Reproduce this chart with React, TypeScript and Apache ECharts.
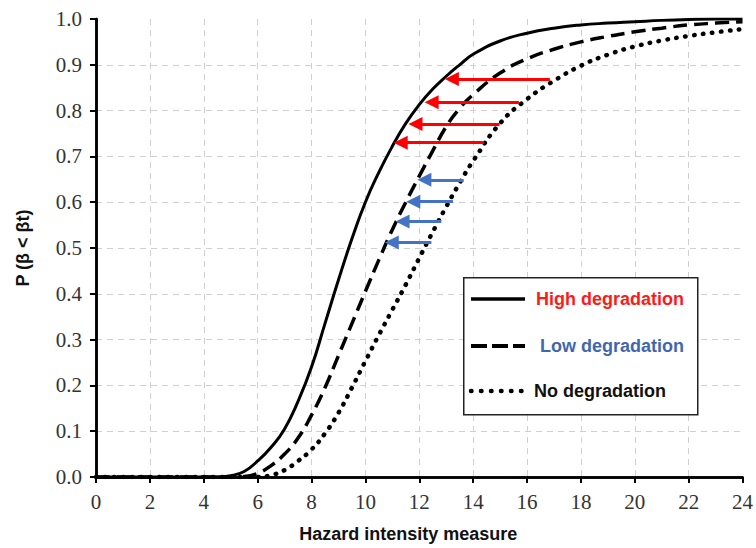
import React, { useEffect, useRef } from "react";
import * as echarts from "echarts";

// Hazard intensity measure (x) sample points
const xs = [0, 1, 2, 3, 4, 4.5, 5, 5.5, 6, 6.5, 7, 7.5, 8, 8.5, 9, 9.5, 10, 10.5, 11, 11.5, 12, 12.5, 13, 13.5, 14, 15, 16, 17, 18, 19, 20, 21, 22, 23, 24];

// P(beta < beta_t) for each curve
const highDeg = [0, 0, 0, 0, 0, 0.0005, 0.003, 0.012, 0.035, 0.065, 0.105, 0.165, 0.24, 0.335, 0.43, 0.52, 0.6, 0.665, 0.722, 0.772, 0.813, 0.847, 0.875, 0.9, 0.923, 0.952, 0.969, 0.98, 0.987, 0.991, 0.994, 0.997, 0.999, 1, 1];
const lowDeg = [0, 0, 0, 0, 0, 0, 0, 0.001, 0.008, 0.025, 0.05, 0.085, 0.135, 0.195, 0.265, 0.335, 0.405, 0.474, 0.54, 0.6, 0.657, 0.712, 0.765, 0.805, 0.835, 0.882, 0.913, 0.934, 0.95, 0.962, 0.972, 0.98, 0.987, 0.991, 0.994];
const noDeg = [0, 0, 0, 0, 0, 0, 0, 0, 0, 0.004, 0.015, 0.035, 0.06, 0.095, 0.14, 0.195, 0.253, 0.31, 0.365, 0.42, 0.478, 0.535, 0.59, 0.642, 0.69, 0.772, 0.825, 0.865, 0.898, 0.922, 0.94, 0.953, 0.963, 0.971, 0.978];

// Arrows (red: no -> high degradation, blue: no -> low degradation)
// "To" values are the arrowhead centres.
const redY = [0.869, 0.818, 0.771, 0.73];
const redFrom = [16.85, 15.7, 14.98, 14.4];
const redTo = [13.21, 12.46, 11.86, 11.31];
const blueY = [0.649, 0.601, 0.558, 0.512];
const blueFrom = [13.65, 13.25, 12.82, 12.45];
const blueTo = [12.19, 11.78, 11.38, 10.98];

const seriesNames = ["High degradation", "Low degradation", "No degradation"];
const legendColors = ["#ff1a1a", "#3f67b0", "#111111"];

const pairs = (ys: number[]) => xs.map((x, i) => [x, ys[i]]);

export default function App() {
  const ref = useRef<HTMLDivElement>(null);
  useEffect(() => {
    if (!ref.current) return;
    const chart = echarts.init(ref.current, undefined, { renderer: "svg" });
    const sans = "'Liberation Sans', Arial, sans-serif";
    const serif = "'Liberation Serif', 'Times New Roman', serif";
    const arrowLines = (ys: number[], from: number[], to: number[]) =>
      ys.map((y, i) => [{ coord: [from[i], y] }, { coord: [to[i], y] }]);
    const arrowSeries = (name: string, color: string, data: any[]) => ({
      name,
      type: "line",
      data: [],
      z: 5,
      markLine: {
        silent: true,
        symbol: ["none", "triangle"],
        symbolSize: 14,
        label: { show: false },
        emphasis: { disabled: true },
        animation: false,
        lineStyle: { color, width: 3.2, type: "solid" },
        itemStyle: { color },
        data,
      },
    });
    const solidStyle = { width: 3 };
    const dashedStyle = { width: 3.5, type: [14, 7] };
    const dottedStyle = { width: 4.5, type: [0.5, 8.5], cap: "round" };
    const legendY = [299, 346, 391];
    const legendTextX = [536, 540, 534];
    const legendLineDash: any[] = [null, [16, 5], [0.5, 9.5]];
    const legendLineWidth = [3.5, 4, 4.5];
    const legendGraphics: any[] = [
      {
        type: "rect",
        left: 463,
        top: 277,
        shape: { x: 0, y: 0, width: 234, height: 137 },
        style: { fill: "#fff", stroke: "#222", lineWidth: 1.5 },
        z: 10,
      },
    ];
    seriesNames.forEach((n, i) => {
      legendGraphics.push({
        type: "line",
        shape: { x1: 471, y1: legendY[i], x2: 525, y2: legendY[i] },
        style: {
          stroke: "#000",
          lineWidth: legendLineWidth[i],
          lineDash: legendLineDash[i] || undefined,
          lineCap: i === 2 ? "round" : "butt",
        },
        z: 11,
      });
      legendGraphics.push({
        type: "text",
        x: legendTextX[i],
        y: legendY[i],
        style: {
          text: n,
          fill: legendColors[i],
          font: `bold 18px ${sans}`,
          verticalAlign: "middle",
          align: "left",
        },
        z: 11,
      });
    });
    const frameAxis = {
      type: "value",
      min: 0,
      axisLine: { show: true, lineStyle: { color: "#000", width: 2.5 } },
      axisTick: { show: false },
      axisLabel: { show: false },
      splitLine: { show: false },
    };
    chart.setOption({
      animation: false,
      backgroundColor: "#fff",
      grid: {
        left: 96,
        right: 9,
        top: 19,
        bottom: 71,
      },
      xAxis: [
        {
          type: "value",
          min: 0,
          max: 24,
          interval: 2,
          name: "Hazard intensity measure",
          nameLocation: "middle",
          nameGap: 48,
          nameTextStyle: { fontFamily: sans, fontWeight: "bold", fontSize: 18, color: "#111", padding: [0, 22, 0, 0] },
          axisLine: { lineStyle: { color: "#000", width: 2.5 } },
          axisTick: { show: true, length: 6, lineStyle: { color: "#000", width: 2 } },
          axisLabel: { fontFamily: serif, fontSize: 21, color: "#333", margin: 14 },
          splitLine: { show: true, showMinLine: false, showMaxLine: false, lineStyle: { color: "#d0d0d0", type: [6, 5], width: 1 } },
        },
        { ...frameAxis, max: 24, position: "top" },
      ],
      yAxis: [
        {
          type: "value",
          min: 0,
          max: 1,
          interval: 0.1,
          name: "P (β < βt)",
          nameLocation: "middle",
          nameGap: 64,
          nameRotate: 90,
          nameTextStyle: { fontFamily: sans, fontWeight: "bold", fontSize: 18, color: "#111" },
          axisLine: { lineStyle: { color: "#000", width: 2.5 } },
          axisTick: { show: true, length: 6, lineStyle: { color: "#000", width: 2 } },
          axisLabel: { fontFamily: serif, fontSize: 21, color: "#333", margin: 14, formatter: (v: number) => v.toFixed(1) },
          splitLine: { show: true, showMinLine: false, showMaxLine: false, lineStyle: { color: "#d0d0d0", type: [6, 5], width: 1 } },
        },
        { ...frameAxis, max: 1, position: "right" },
      ],
      graphic: legendGraphics,
      series: [
        {
          name: seriesNames[0],
          type: "line",
          data: pairs(highDeg),
          showSymbol: false,
          symbol: "none",
          smooth: 0.5,
          lineStyle: { color: "#000", ...solidStyle },
          z: 3,
        },
        {
          name: seriesNames[1],
          type: "line",
          data: pairs(lowDeg),
          showSymbol: false,
          symbol: "none",
          smooth: 0.5,
          lineStyle: { color: "#000", ...dashedStyle },
          z: 3,
        },
        {
          name: seriesNames[2],
          type: "line",
          data: pairs(noDeg),
          showSymbol: false,
          symbol: "none",
          smooth: 0.5,
          lineStyle: { color: "#000", ...dottedStyle },
          z: 3,
        },
        arrowSeries("redArrows", "#ff0000", arrowLines(redY, redFrom, redTo)),
        arrowSeries("blueArrows", "#4472c4", arrowLines(blueY, blueFrom, blueTo)),
      ],
    });
    return () => chart.dispose();
  }, []);
  return <div ref={ref} style={{ position: "fixed", left: 0, top: 0, width: 756, height: 548 }} />;
}
